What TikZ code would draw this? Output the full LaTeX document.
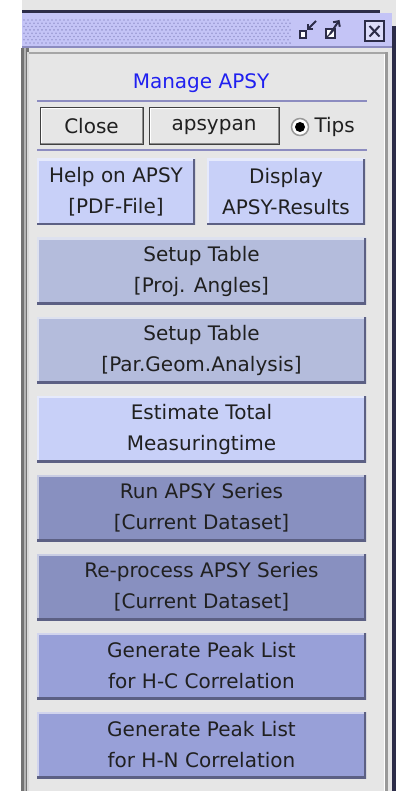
\documentclass[tikz,border=0pt]{standalone}
\usepackage{fontspec}
\newfontfamily\guifont{DejaVu Sans}
\usetikzlibrary{arrows.meta}

\definecolor{winbg}{HTML}{E6E6E6}
\definecolor{titlebg}{HTML}{C4C4F6}
\definecolor{titledot}{HTML}{9898D0}
\definecolor{navy}{HTML}{2C2C48}
\definecolor{sepline}{HTML}{8C8CC0}
\definecolor{mgblue}{HTML}{2020F0}
\definecolor{lightbtn}{HTML}{C8D0F8}
\definecolor{setupbtn}{HTML}{B4BCDC}
\definecolor{runbtn}{HTML}{8890C0}
\definecolor{peakbtn}{HTML}{98A0D8}
\definecolor{btndark}{HTML}{5C6084}
\definecolor{txtgray}{HTML}{202020}

\tikzset{
  btn/.style={fill=#1, minimum height=66pt, inner sep=0pt, align=center,
    text=txtgray, font=\guifont\fontsize{20}{31}\selectfont,
    path picture={
      \draw[white!55!#1, line width=4pt] (path picture bounding box.south west) |- (path picture bounding box.north east);
      \draw[btndark, line width=4pt] (path picture bounding box.south west) -| (path picture bounding box.north east);
    }},
  widebtn/.style={btn=#1, minimum width=329pt},
  halfbtn/.style={btn=#1, minimum width=158pt},
  plainbtn/.style={fill=winbg, draw=black!75, line width=1pt, minimum height=37pt,
    inner sep=0pt, text=txtgray, font=\guifont\fontsize{20}{24}\selectfont,
    path picture={
      \draw[white, line width=3pt] (path picture bounding box.south west) |- (path picture bounding box.north east);
      \draw[black!45, line width=3pt] (path picture bounding box.south west) -| (path picture bounding box.north east);
    }},
}

\begin{document}
\begin{tikzpicture}[x=1pt,y=-1pt]
  \useasboundingbox (0,0) rectangle (396,791);
  % window frame
  \fill[white] (0,0) rectangle (396,791);
  \fill[winbg] (22,0) rectangle (396,791);
  \fill[navy] (22,10) rectangle (380,13);
  % title bar
  \fill[titlebg] (22,13) rectangle (392,47);
  \foreach \k in {0,...,7}
    \foreach \i in {0,...,66}
      \fill[titledot] ({24+4*\i+2*mod(\k,2)},{20+3.3*\k}) circle (0.9pt);
  \fill[sepline] (22,46) rectangle (392,48);
  % borders
  \fill[black!55] (21,48) rectangle (29,791);
  \fill[black!30] (23.5,48) rectangle (25.5,791);
  \fill[black!15] (27,52) rectangle (29,791);
  \fill[black!35] (29,52) rectangle (386,54);
  \fill[white] (384,54) rectangle (385,791);
  \fill[black!40] (385,52) rectangle (387.5,791);
  \fill[white!90!black] (387.5,48) rectangle (392,791);
  \fill[navy] (392,26) rectangle (396,791);

  % title bar icons
  \draw[navy, line width=2pt, fill=white] (299.5,31) rectangle (306,38.5);
  \draw[navy, line width=2pt, -{Straight Barb[length=4pt]}] (316,21) -- (306.5,30.5);
  \draw[navy, line width=2pt, fill=white] (325.5,29) rectangle (335,38.5);
  \draw[navy, line width=1.2pt] (326,38) -- (334,30);
  \draw[navy, line width=2pt, -{Straight Barb[length=4pt]}] (330,34) -- (339.5,20);
  \draw[navy, line width=2pt, fill=titlebg!60!white] (365,21.5) rectangle (384,41);
  \draw[navy, line width=2pt] (369.5,26) -- (379.5,36.5) (379.5,26) -- (369.5,36.5);

  % header
  \node[anchor=base, text=mgblue, font=\guifont\fontsize{20}{24}\selectfont] (title) at (201,89) {Manage APSY};
  \draw[sepline, line width=1.5pt] (37,101) -- (367,101);
  \node[plainbtn, minimum width=103pt] (close) at (91.5,126.5) {Close};
  \node[plainbtn, minimum width=130pt] (apsypan) at (214,126.5) {apsypan};
  \node[circle, draw=black!40, fill=white, line width=1.5pt, minimum size=17pt, inner sep=0pt] (tips) at (300,127) {};
  \fill[black] (tips.center) circle (5pt);
  \node[anchor=west, text=txtgray, font=\guifont\fontsize{20}{24}\selectfont] (tipslbl) at (311,127) {Tips};
  \draw[sepline, line width=1.5pt] (37,150) -- (367,150);

  % buttons
  \node[halfbtn=lightbtn] (help) at (116,192) {Help on APSY\\{[PDF-File]}};
  \node[halfbtn=lightbtn] (display) at (286,192) {Display\\APSY-Results};
  \node[widebtn=setupbtn] (projang) at (201.5,271) {Setup Table\\{[Proj. Angles]}};
  \node[widebtn=setupbtn] (pargeom) at (201.5,350) {Setup Table\\{[Par.Geom.Analysis]}};
  \node[widebtn=lightbtn] (esttime) at (201.5,429) {Estimate Total\\Measuringtime};
  \node[widebtn=runbtn] (runser) at (201.5,508) {Run APSY Series\\{[Current Dataset]}};
  \node[widebtn=runbtn] (reproc) at (201.5,587) {Re-process APSY Series\\{[Current Dataset]}};
  \node[widebtn=peakbtn] (peakhc) at (201.5,666) {Generate Peak List\\for H-C Correlation};
  \node[widebtn=peakbtn] (peakhn) at (201.5,745) {Generate Peak List\\for H-N Correlation};
\end{tikzpicture}
\end{document}
